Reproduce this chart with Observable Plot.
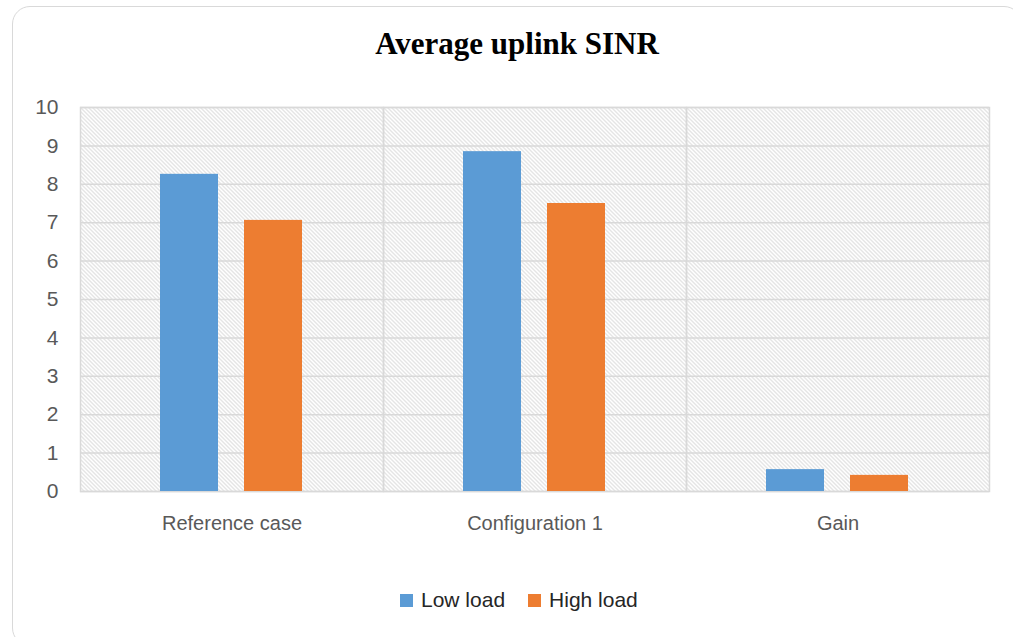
<!DOCTYPE html>
<html>
<head>
<meta charset="utf-8">
<script src="https://cdn.jsdelivr.net/npm/d3@7"></script>
<script src="https://cdn.jsdelivr.net/npm/@observablehq/plot@0.6"></script>
<style>
  html, body { margin: 0; padding: 0; background: #fff; }
  #chart { position: relative; width: 1013px; height: 637px; overflow: hidden; font-family: "Liberation Sans", Arial, sans-serif; }
  #chart .border { position: absolute; left: 12px; top: 6px; width: 1010px; height: 640px; border: 1.5px solid #d9d9d9; border-radius: 18px; box-sizing: border-box; }
  #chart svg { position: absolute; left: 0; top: 0; }
  #chart .title { position: absolute; left: 0; width: 1034px; top: 26px; text-align: center; font-family: "Liberation Serif", "Times New Roman", serif; font-weight: bold; font-size: 31px; color: #000; }
  #chart .legend { position: absolute; left: 400px; top: 588px; display: flex; align-items: center; font-size: 21px; color: #262626; }
  #chart .legend .item { display: flex; align-items: center; margin-right: 23px; }
  #chart .legend .swatch { width: 13px; height: 13px; margin-right: 8px; }
</style>
</head>
<body>
<div id="chart"></div>
<script>
// Average uplink SINR per scenario, for low and high load
const categories = ["Reference case", "Configuration 1", "Gain"];
const series = ["Low load", "High load"];
const lowLoad = [8.26, 8.85, 0.57];
const highLoad = [7.06, 7.5, 0.42];
const yTicks = [0, 1, 2, 3, 4, 5, 6, 7, 8, 9, 10];
const colors = ["#5b9bd5", "#ed7d31"];

const data = categories.flatMap((c, i) => [
  {category: c, series: series[0], value: lowLoad[i]},
  {category: c, series: series[1], value: highLoad[i]}
]);

const chart = document.getElementById("chart");

const border = document.createElement("div");
border.className = "border";
chart.appendChild(border);

const plot = Plot.plot({
  width: 1013,
  height: 637,
  marginLeft: 79,
  marginRight: 23,
  marginTop: 107,
  marginBottom: 146,
  style: {fontFamily: "'Liberation Sans', Arial, sans-serif", background: "transparent", overflow: "visible"},
  fx: {domain: categories, padding: 0, label: null},
  x: {domain: series, paddingInner: 0.306, paddingOuter: 0.938, axis: null},
  y: {domain: [0, 10], ticks: yTicks},
  color: {domain: series, range: colors},
  marks: [
    Plot.frame({fill: "url(#hatch)", stroke: null}),
    Plot.gridY(yTicks, {stroke: "#d9d9d9", strokeOpacity: 1, strokeWidth: 1.5}),
    Plot.frame({stroke: "#d9d9d9", strokeWidth: 1.5}),
    Plot.barY(data, {fx: "category", x: "series", y: "value", fill: "series"}),
    Plot.axisY(yTicks, {tickSize: 0, tickPadding: 22, fontSize: 21, fill: "#595959", label: null}),
    Plot.axisFx({anchor: "bottom", tickSize: 0, tickPadding: 24, fontSize: 20, fill: "#595959", label: null})
  ]
});

// pixel-sharp diagonal hatch used to fill the plotting area
const defs = d3.select(plot).insert("defs", ":first-child");
const pat = defs.append("pattern")
  .attr("id", "hatch")
  .attr("patternUnits", "userSpaceOnUse")
  .attr("width", 4)
  .attr("height", 4);
pat.append("rect").attr("width", 4).attr("height", 4).attr("fill", "#ffffff");
for (let k = 0; k < 4; ++k) {
  pat.append("rect")
    .attr("x", k).attr("y", k)
    .attr("width", 1).attr("height", 1)
    .attr("fill", "#cbcbcb");
}

chart.appendChild(plot);

const title = document.createElement("div");
title.className = "title";
title.textContent = "Average uplink SINR";
chart.appendChild(title);

const legend = document.createElement("div");
legend.className = "legend";
series.forEach((s, i) => {
  const item = document.createElement("div");
  item.className = "item";
  const sw = document.createElement("span");
  sw.className = "swatch";
  sw.style.background = colors[i];
  const label = document.createElement("span");
  label.textContent = s;
  item.appendChild(sw);
  item.appendChild(label);
  legend.appendChild(item);
});
chart.appendChild(legend);
</script>
</body>
</html>
